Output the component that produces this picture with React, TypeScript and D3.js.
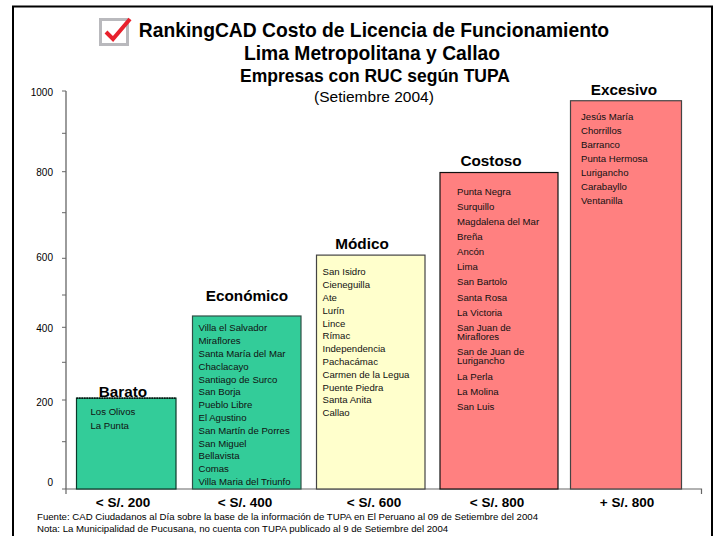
import React from "react";
import * as d3 from "d3";

const categories = ["Barato", "Económico", "Módico", "Costoso", "Excesivo"];
const priceLabels = ["< S/. 200", "< S/. 400", "< S/. 600", "< S/. 800", "+ S/. 800"];
const values = [205, 435, 607, 798, 977];
const colors = ["#33CC99", "#33CC99", "#FFFFCC", "#FF8080", "#FF8080"];

const baratoDistricts = ["Los Olivos", "La Punta"];
const economicoDistricts = ["Villa el Salvador", "Miraflores", "Santa María del Mar", "Chaclacayo", "Santiago de Surco", "San Borja", "Pueblo Libre", "El Agustino", "San Martín de Porres", "San Miguel", "Bellavista", "Comas", "Villa Maria del Triunfo"];
const modicoDistricts = ["San Isidro", "Cieneguilla", "Ate", "Lurín", "Lince", "Rímac", "Independencia", "Pachacámac", "Carmen de la Legua", "Puente Piedra", "Santa Anita", "Callao"];
const costosoDistricts = ["Punta Negra", "Surquillo", "Magdalena del Mar", "Breña", "Ancón", "Lima", "San Bartolo", "Santa Rosa", "La Victoria", "San Juan de|Miraflores", "San de Juan de|Lurigancho", "La Perla", "La Molina", "San Luis"];
const excesivoDistricts = ["Jesús María", "Chorrillos", "Barranco", "Punta Hermosa", "Lurigancho", "Carabayllo", "Ventanilla"];
const districts = [baratoDistricts, economicoDistricts, modicoDistricts, costosoDistricts, excesivoDistricts];

const yTicks = [0, 200, 400, 600, 800, 1000];
const yMinorTicks = [100, 300, 500, 700, 900];

const titleLines = ["RankingCAD Costo de Licencia de Funcionamiento", "Lima Metropolitana y Callao"];
const subtitle = "Empresas con RUC según TUPA";
const dateLine = "(Setiembre 2004)";
const notes = [
  "Fuente: CAD Ciudadanos al Día sobre la base de la información de TUPA en El Peruano al 09 de Setiembre del 2004",
  "Nota: La Municipalidad de Pucusana, no cuenta con TUPA publicado al 9 de Setiembre del 2004",
];

const FONT = "'Liberation Sans', Arial, sans-serif";

// The source axis is hand-placed, hence the piecewise scale.
const y = d3.scaleLinear()
  .domain([0, 100, 200, 300, 400, 500, 600, 700, 800, 900, 1000])
  .range([489, 441.7, 400, 362.3, 327.3, 295, 258.3, 212.7, 171.7, 133.3, 91]);
const barLeft = d3.scaleOrdinal<string, number>().domain(categories).range([76.5, 192.5, 316.5, 440, 570.5]);
const barRight = d3.scaleOrdinal<string, number>().domain(categories).range([176, 301, 425, 558, 681.5]);
const textLeft = d3.scaleOrdinal<string, number>().domain(categories).range([90.5, 198.5, 322.5, 457, 581]);
const listStart = d3.scaleOrdinal<string, number>().domain(categories).range([412, 328, 272, 191.7, 116.3]);
const listStep = d3.scaleOrdinal<string, number>().domain(categories).range([13.5, 12.8, 12.8, 15.05, 14]);
const headCenter = d3.scaleOrdinal<string, number>().domain(categories).range([123, 247, 362, 491, 624]);
const headY = d3.scaleOrdinal<string, number>().domain(categories).range([391, 295, 243, 160, 89]);
const priceCenter = d3.scaleOrdinal<string, number>().domain(priceLabels).range([123, 245, 374, 497, 627]);
const labelY = d3.scaleOrdinal<number, number>().domain(yTicks).range([482, 402, 328, 257, 172, 92]);
const barStroke = d3.scaleOrdinal<string, string>().domain(categories).range(["#0a3a2a", "#2f4f45", "#444", "#111", "#444"]);

const AXIS = "#666";

export default function App() {
  const check = d3.line()([[106, 32], [113, 39], [130, 19]]) ?? "";
  return (
    <svg width={717} height={536} style={{ position: "absolute", left: 0, top: 0, display: "block" }} fontFamily={FONT}>
      <rect x={0} y={0} width={717} height={536} fill="#fff" />
      <path d="M13 536V6.5H712V536" fill="none" stroke="#000" strokeWidth={2} />

      <rect x={100.5} y={19.5} width={27} height={25} fill="#fff" stroke="#b9b9bd" strokeWidth={3} />
      <path d={check} fill="none" stroke="#e8202c" strokeWidth={4} />

      {titleLines.map((t, i) => (
        <text key={t} x={i === 0 ? 374 : 372} y={30 + i * 23} dy="0.36em" textAnchor="middle" fontSize={19.3} fontWeight="bold">{t}</text>
      ))}
      <text x={375} y={76} dy="0.36em" textAnchor="middle" fontSize={17.5} fontWeight="bold">{subtitle}</text>
      <text x={374} y={96} dy="0.36em" textAnchor="middle" fontSize={15.5}>{dateLine}</text>

      <line x1={66} x2={66} y1={y(1000)} y2={y(0)} stroke={AXIS} strokeWidth={1.3} />
      {yTicks.map(t => (
        <g key={t}>
          <line x1={62} x2={66} y1={y(t)} y2={y(t)} stroke={AXIS} />
          <text x={53} y={labelY(t)} dy="0.36em" textAnchor="end" fontSize={10}>{t}</text>
        </g>
      ))}
      {yMinorTicks.map(t => (
        <line key={t} x1={62} x2={66} y1={y(t)} y2={y(t)} stroke={AXIS} />
      ))}
      <path d={`M66 ${y(0) + 5}V${y(0)}H701.5V${y(0) + 5}`} fill="none" stroke={AXIS} strokeWidth={1.2} />

      {categories.map((c, i) => {
        const left = barLeft(c);
        const right = barRight(c);
        let cursor = listStart(c);
        return (
          <g key={c}>
            <rect x={left} y={y(values[i])} width={right - left} height={y(0) - y(values[i])} fill={colors[i]} stroke={barStroke(c)} strokeWidth={1.2} />
            <text x={headCenter(c)} y={headY(c)} dy="0.36em" textAnchor="middle" fontSize={15.3} fontWeight="bold">{c}</text>
            {districts[i].map(d => {
              const parts = d.split("|");
              const yPos = cursor;
              cursor += listStep(c) + (parts.length - 1) * 9.4;
              return parts.map((p, k) => (
                <text key={p + k} x={textLeft(c)} y={yPos + k * 9.3} dy="0.36em" fontSize={9.6} fill="#111">{p}</text>
              ));
            })}
            <text x={priceCenter(priceLabels[i])} y={502} dy="0.36em" textAnchor="middle" fontSize={13.5} fontWeight="bold">{priceLabels[i]}</text>
          </g>
        );
      })}
      <line x1={y(0) * 0 + barLeft("Barato")} x2={barRight("Barato")} y1={y(values[0])} y2={y(values[0])} stroke="#000" strokeWidth={1.2} strokeDasharray="1.5 1" />

      {notes.map((n, i) => (
        <text key={n} x={37} y={516.5 + i * 12} dy="0.36em" fontSize={9.65}>{n}</text>
      ))}
    </svg>
  );
}
